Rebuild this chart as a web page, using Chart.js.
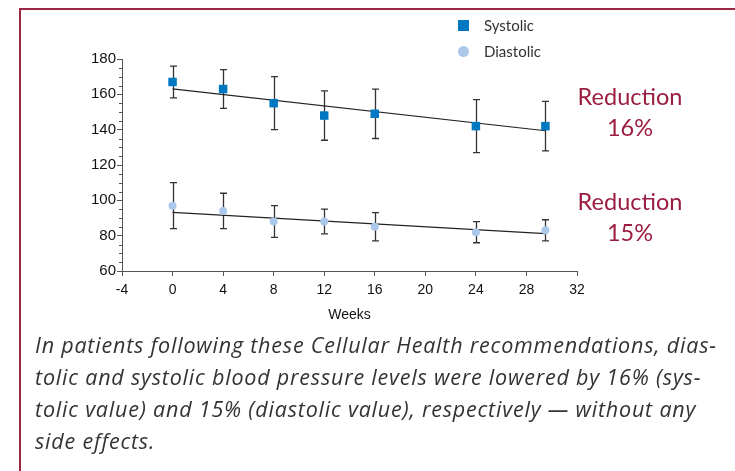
<!DOCTYPE html>
<html>
<head>
<meta charset="utf-8">
<script src="https://cdn.jsdelivr.net/npm/chart.js@4/dist/chart.umd.min.js"></script>
<style>
    html, body {
        margin: 0;
        padding: 0;
        background: #ffffff;
    }

    #wrap {
        position: relative;
        width: 735px;
        height: 471px;
        overflow: hidden;
        font-family: 'Lato', 'Open Sans', sans-serif;
    }

    #frame {
        position: absolute;
        left: 19px;
        top: 8px;
        width: 800px;
        height: 480px;
        border-left: 2px solid #9b2744;
        border-top: 2px solid #9b2744;
    }

    #chart {
        position: absolute;
        left: 0;
        top: 0;
    }

    .legend {
        position: absolute;
        left: 458px;
        font-size: 15px;
        color: #333;
    }

    .legend .sq {
        position: absolute;
        left: 0;
        top: 4px;
        width: 11px;
        height: 11px;
        background: #0077c1;
    }

    .legend .dot {
        position: absolute;
        left: 0;
        top: 4px;
        width: 11px;
        height: 11px;
        border-radius: 50%;
        background: #abc8ea;
    }

    .legend span.t {
        position: absolute;
        left: 26px;
        top: 0;
        white-space: nowrap;
    }

    .reduction {
        position: absolute;
        left: 558px;
        width: 144px;
        text-align: center;
        color: #9b1d41;
        font-size: 23.5px;
        line-height: 31px;
    }

    #caption {
        position: absolute;
        left: 35px;
        top: 329px;
        font-family: 'Open Sans', sans-serif;
        font-size: 21.5px;
        letter-spacing: 0.8px;
        line-height: 32px;
        font-style: italic;
        color: #333;
        white-space: nowrap;
    }
</style>
</head>
<body>
<div id="wrap">
    <div id="frame"></div>
    <canvas id="chart" width="735" height="471"></canvas>

    <div class="legend" style="top: 16px;"><div class="sq"></div><span class="t">Systolic</span></div>
    <div class="legend" style="top: 42px;"><div class="dot"></div><span class="t">Diastolic</span></div>

    <div class="reduction" style="top: 81px;">Reduction<br>16%</div>
    <div class="reduction" style="top: 186px;">Reduction<br>15%</div>

    <div id="caption">
        In patients following these Cellular Health recommendations, dias-<br>
        tolic and systolic blood pressure levels were lowered by 16% (sys-<br>
        tolic value) and 15% (diastolic value), respectively — without any<br>
        side effects.
    </div>
</div>

<script>
    // weeks of measurement
    const weeks = [0, 4, 8, 12, 16, 24, 29.5];

    // systolic mean and error bar ends (mmHg)
    const systolic = [167, 163, 155, 148, 149, 142, 142];
    const systolicHigh = [176, 174, 170, 162, 163, 157, 156];
    const systolicLow = [158, 152, 140, 134, 135, 127, 128];

    // diastolic mean and error bar ends (mmHg)
    const diastolic = [97, 94, 88, 88, 85, 82, 83];
    const diastolicHigh = [110, 104, 97, 95, 93, 88, 89];
    const diastolicLow = [84, 84, 79, 81, 77, 76, 77];

    // regression lines, start and end
    const trendWeeks = [0, 29.5];
    const systolicTrend = [163.1, 139.4];
    const diastolicTrend = [93.2, 81.2];

    // axis ticks
    const xTicks = [-4, 0, 4, 8, 12, 16, 20, 24, 28, 32];
    const yTicks = [60, 80, 100, 120, 140, 160, 180];

    const tickFont = "'Liberation Sans', Arial, sans-serif";

    function toPoints(xs, ys) {
        return xs.map(function (x, i) {
            return { x: x, y: ys[i] };
        });
    }

    /* ==========================================
       Error bars + minor y ticks
    ========================================== */

    const errorBars = {
        id: 'errorBars',
        beforeDatasetsDraw: function (chart) {
            const ctx = chart.ctx;
            const xs = chart.scales.x;
            const ys = chart.scales.y;
            const groups = [
                [systolicLow, systolicHigh],
                [diastolicLow, diastolicHigh]
            ];

            ctx.save();
            ctx.strokeStyle = '#333333';
            ctx.lineWidth = 1.3;

            groups.forEach(function (g) {
                weeks.forEach(function (w, i) {
                    const px = Math.round(xs.getPixelForValue(w)) + 0.5;
                    const top = ys.getPixelForValue(g[1][i]);
                    const bottom = ys.getPixelForValue(g[0][i]);
                    ctx.beginPath();
                    ctx.moveTo(px, top);
                    ctx.lineTo(px, bottom);
                    ctx.moveTo(px - 3.5, top);
                    ctx.lineTo(px + 3.5, top);
                    ctx.moveTo(px - 3.5, bottom);
                    ctx.lineTo(px + 3.5, bottom);
                    ctx.stroke();
                });
            });

            // minor ticks every 5 on y
            ctx.strokeStyle = '#555555';
            ctx.lineWidth = 1;
            const left = Math.round(chart.chartArea.left);
            for (let v = 65; v < 180; v += 5) {
                if (v % 20 === 0) {
                    continue;
                }
                const py = Math.round(ys.getPixelForValue(v)) + 0.5;
                ctx.beginPath();
                ctx.moveTo(left - 3, py);
                ctx.lineTo(left, py);
                ctx.stroke();
            }

            ctx.restore();
        }
    };

    new Chart(document.getElementById('chart'), {

        type: 'scatter',

        data: {
            datasets: [
                {
                    label: 'Systolic',
                    data: toPoints(weeks, systolic),
                    pointStyle: 'rect',
                    pointRadius: 6,
                    backgroundColor: '#0077c1',
                    borderColor: '#0077c1',
                    borderWidth: 0
                },
                {
                    label: 'Diastolic',
                    data: toPoints(weeks, diastolic),
                    pointStyle: 'circle',
                    pointRadius: 4,
                    backgroundColor: '#abc8ea',
                    borderColor: '#abc8ea',
                    borderWidth: 0
                },
                {
                    type: 'line',
                    label: 'Systolic trend',
                    data: toPoints(trendWeeks, systolicTrend),
                    borderColor: '#222222',
                    borderWidth: 1.2,
                    pointRadius: 0,
                    fill: false
                },
                {
                    type: 'line',
                    label: 'Diastolic trend',
                    data: toPoints(trendWeeks, diastolicTrend),
                    borderColor: '#222222',
                    borderWidth: 1.2,
                    pointRadius: 0,
                    fill: false
                }
            ]
        },

        options: {
            responsive: false,
            animation: false,
            layout: {
                padding: { left: 0, right: 158, top: 59, bottom: 146 }
            },
            plugins: {
                legend: { display: false },
                tooltip: { enabled: false }
            },
            scales: {
                x: {
                    type: 'linear',
                    min: -4,
                    max: 32,
                    afterFit: function (scale) {
                        scale.height = 54;
                    },
                    afterBuildTicks: function (scale) {
                        scale.ticks = xTicks.map(function (v) { return { value: v }; });
                    },
                    border: { display: true, color: '#555555', width: 1 },
                    grid: {
                        drawOnChartArea: false,
                        drawTicks: true,
                        tickLength: 5,
                        color: '#555555'
                    },
                    ticks: {
                        color: '#111111',
                        padding: 6,
                        font: { family: tickFont, size: 14 }
                    },
                    title: {
                        display: true,
                        text: 'Weeks',
                        color: '#111111',
                        padding: { top: 0, bottom: 1 },
                        font: { family: tickFont, size: 14 }
                    }
                },
                y: {
                    type: 'linear',
                    min: 60,
                    max: 180,
                    afterFit: function (scale) {
                        scale.width = 122;
                    },
                    afterBuildTicks: function (scale) {
                        scale.ticks = yTicks.map(function (v) { return { value: v }; });
                    },
                    border: { display: true, color: '#555555', width: 1 },
                    grid: {
                        drawOnChartArea: false,
                        drawTicks: true,
                        tickLength: 5,
                        color: '#555555'
                    },
                    ticks: {
                        color: '#111111',
                        padding: 1,
                        font: { family: tickFont, size: 15 }
                    }
                }
            }
        },

        plugins: [errorBars]

    });
</script>
</body>
</html>
